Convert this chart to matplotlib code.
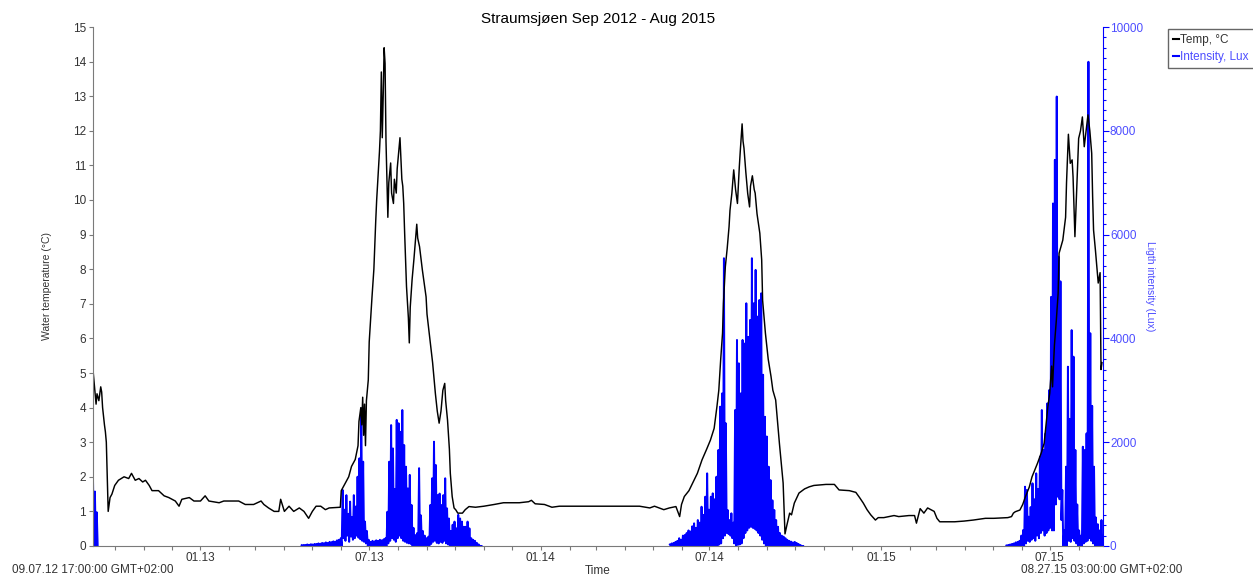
import matplotlib
matplotlib.use('Agg')
import matplotlib.pyplot as plt
import matplotlib.dates as mdates
from matplotlib.lines import Line2D
from matplotlib.ticker import MultipleLocator
import pandas as pd

plt.rcParams['font.family'] = ['Liberation Sans', 'DejaVu Sans']

t_start = pd.Timestamp('2012-09-07 17:00')
t_end = pd.Timestamp('2015-08-27 03:00')

# water temperature logger readings (deg C)
temp_dates = [
    '2012-09-07 17:00', '2012-09-08', '2012-09-11', '2012-09-12', '2012-09-14', '2012-09-16',
    '2012-09-17', '2012-09-18', '2012-09-20', '2012-09-21', '2012-09-22', '2012-09-23',
    '2012-09-24', '2012-09-26', '2012-09-28', '2012-10-01', '2012-10-05', '2012-10-11',
    '2012-10-16', '2012-10-19', '2012-10-23', '2012-10-27', '2012-10-31', '2012-11-03',
    '2012-11-07', '2012-11-10', '2012-11-17', '2012-11-23', '2012-11-28', '2012-12-05',
    '2012-12-09', '2012-12-12', '2012-12-20', '2012-12-25',
    '2013-01-01', '2013-01-06', '2013-01-10', '2013-01-21', '2013-01-26', '2013-02-11',
    '2013-02-18', '2013-02-27', '2013-03-07', '2013-03-10', '2013-03-15', '2013-03-21',
    '2013-03-26', '2013-03-28', '2013-04-01', '2013-04-06', '2013-04-11', '2013-04-17',
    '2013-04-22', '2013-04-27', '2013-05-01', '2013-05-05', '2013-05-10', '2013-05-15',
    '2013-05-19', '2013-05-31', '2013-06-01', '2013-06-05', '2013-06-09', '2013-06-12',
    '2013-06-16', '2013-06-19', '2013-06-20', '2013-06-22', '2013-06-23', '2013-06-24',
    '2013-06-25', '2013-06-26', '2013-06-27', '2013-06-28', '2013-06-30', '2013-07-01',
    '2013-07-04', '2013-07-06', '2013-07-08', '2013-07-09', '2013-07-11', '2013-07-12',
    '2013-07-13', '2013-07-14', '2013-07-15', '2013-07-16', '2013-07-17', '2013-07-18',
    '2013-07-19', '2013-07-21', '2013-07-22', '2013-07-24', '2013-07-25', '2013-07-27',
    '2013-07-28', '2013-07-30', '2013-07-31', '2013-08-03', '2013-08-05', '2013-08-06',
    '2013-08-07', '2013-08-08', '2013-08-10', '2013-08-12', '2013-08-13', '2013-08-14',
    '2013-08-16', '2013-08-18', '2013-08-21', '2013-08-22', '2013-08-24', '2013-08-27',
    '2013-08-31', '2013-09-01', '2013-09-04', '2013-09-07', '2013-09-10', '2013-09-12',
    '2013-09-14', '2013-09-16', '2013-09-18', '2013-09-20', '2013-09-21', '2013-09-23',
    '2013-09-25', '2013-09-26', '2013-09-28', '2013-09-30', '2013-10-02', '2013-10-04',
    '2013-10-09', '2013-10-12', '2013-10-16', '2013-10-23', '2013-11-01', '2013-11-12',
    '2013-11-22', '2013-12-09', '2013-12-19', '2013-12-22', '2013-12-26',
    '2014-01-05', '2014-01-13', '2014-01-21', '2014-03-05', '2014-04-17', '2014-04-28',
    '2014-05-03', '2014-05-08', '2014-05-13', '2014-05-19', '2014-05-26', '2014-05-30',
    '2014-06-01', '2014-06-04', '2014-06-09', '2014-06-13', '2014-06-18', '2014-06-23',
    '2014-06-28', '2014-07-02', '2014-07-06', '2014-07-09', '2014-07-11', '2014-07-13',
    '2014-07-15', '2014-07-16', '2014-07-18', '2014-07-20', '2014-07-22', '2014-07-23',
    '2014-07-25', '2014-07-27', '2014-07-29', '2014-07-31', '2014-08-02', '2014-08-03',
    '2014-08-05', '2014-08-06', '2014-08-07', '2014-08-09', '2014-08-11', '2014-08-13',
    '2014-08-14', '2014-08-16', '2014-08-18', '2014-08-19', '2014-08-21', '2014-08-24',
    '2014-08-26', '2014-08-27', '2014-08-30', '2014-09-02', '2014-09-05', '2014-09-07',
    '2014-09-10', '2014-09-12', '2014-09-14', '2014-09-18', '2014-09-20', '2014-09-22',
    '2014-09-25', '2014-09-27', '2014-09-30', '2014-10-05', '2014-10-11', '2014-10-16',
    '2014-10-21', '2014-11-03', '2014-11-12', '2014-11-17', '2014-11-28', '2014-12-05',
    '2014-12-09', '2014-12-13', '2014-12-17', '2014-12-21', '2014-12-26', '2014-12-29',
    '2015-01-04', '2015-01-15', '2015-01-20', '2015-01-31', '2015-02-06', '2015-02-08',
    '2015-02-12', '2015-02-16', '2015-02-20', '2015-02-27', '2015-03-02', '2015-03-05',
    '2015-03-21', '2015-03-31', '2015-04-10', '2015-04-23', '2015-05-02', '2015-05-17',
    '2015-05-21', '2015-05-23', '2015-05-25', '2015-05-30', '2015-06-02', '2015-06-05',
    '2015-06-09', '2015-06-12', '2015-06-18', '2015-06-22', '2015-06-25', '2015-06-29',
    '2015-07-01', '2015-07-03', '2015-07-04', '2015-07-06', '2015-07-08', '2015-07-10',
    '2015-07-11', '2015-07-15', '2015-07-18', '2015-07-19', '2015-07-21', '2015-07-23',
    '2015-07-25', '2015-07-26', '2015-07-28', '2015-07-30', '2015-08-01', '2015-08-03',
    '2015-08-05', '2015-08-07', '2015-08-09', '2015-08-11', '2015-08-13', '2015-08-15',
    '2015-08-16', '2015-08-17', '2015-08-19', '2015-08-21', '2015-08-22', '2015-08-24',
    '2015-08-25', '2015-08-26',
]
temp_values = [
    5.37, 5.0, 4.1, 4.4, 4.2, 4.6,
    4.45, 4.0, 3.5, 3.3, 3.0, 2.0,
    1.0, 1.4, 1.5, 1.75, 1.9, 2.0,
    1.95, 2.1, 1.9, 1.95, 1.85, 1.9,
    1.75, 1.6, 1.6, 1.45, 1.4, 1.3,
    1.15, 1.35, 1.4, 1.3,
    1.3, 1.45, 1.3, 1.25, 1.3, 1.3,
    1.2, 1.2, 1.3, 1.2, 1.1, 1.0,
    1.0, 1.35, 1.0, 1.15, 1.0, 1.1,
    1.0, 0.8, 1.0, 1.15, 1.15, 1.05,
    1.1, 1.12, 1.6, 1.8, 2.0, 2.3,
    2.5, 2.9, 3.6, 4.0, 3.5, 4.3,
    3.2, 4.1, 2.9, 4.2, 4.8, 5.9,
    7.2, 8.0, 9.4, 10.0, 10.9, 11.4,
    12.0, 13.7, 11.8, 13.0, 14.4, 13.95,
    11.7, 9.5, 10.5, 11.07, 10.2, 9.9,
    10.6, 10.2, 10.9, 11.8, 10.6, 10.4,
    9.9, 9.05, 7.5, 6.6, 5.87, 6.9,
    7.7, 8.3, 9.3, 8.9, 8.65, 7.98,
    7.2, 6.7, 6.0, 5.3, 4.4, 3.9,
    3.55, 3.9, 4.5, 4.7, 4.2, 3.64,
    2.8, 2.1, 1.43, 1.1, 1.04, 0.95,
    0.95, 1.05, 1.14, 1.12, 1.15, 1.2,
    1.25, 1.25, 1.28, 1.32, 1.22,
    1.2, 1.12, 1.15, 1.15, 1.15, 1.1,
    1.15, 1.1, 1.05, 1.1, 1.14, 0.85,
    1.2, 1.43, 1.6, 1.82, 2.1, 2.49,
    2.8, 3.06, 3.4, 4.03, 4.5, 5.38,
    6.15, 7.02, 8.07, 8.6, 9.23, 9.7,
    10.19, 10.87, 10.3, 9.9, 10.96, 11.4,
    12.2, 11.7, 11.5, 10.8, 10.19, 9.8,
    10.4, 10.7, 10.3, 10.2, 9.6, 9.04,
    8.27, 7.1, 6.15, 5.4, 4.9, 4.5,
    4.22, 3.6, 2.97, 1.82, 0.35, 0.6,
    0.95, 0.9, 1.24, 1.53, 1.65, 1.71,
    1.75, 1.78, 1.78, 1.62, 1.6, 1.55,
    1.4, 1.24, 1.05, 0.9, 0.75, 0.82,
    0.82, 0.88, 0.85, 0.88, 0.88, 0.66,
    1.08, 0.95, 1.1, 1.0, 0.8, 0.7,
    0.7, 0.72, 0.75, 0.8, 0.8, 0.82,
    0.85, 0.95, 0.99, 1.04, 1.2, 1.43,
    1.7, 2.0, 2.4, 2.7, 2.97, 4.03,
    4.42, 5.2, 4.6, 5.8, 6.5, 7.3,
    8.46, 8.84, 9.5, 10.5, 11.9, 11.06,
    11.16, 10.67, 8.94, 10.4, 11.78, 12.0,
    12.4, 11.54, 12.0, 12.46, 12.0, 11.35,
    10.1, 9.13, 8.55, 7.9, 7.6, 7.9,
    5.1, 5.3,
]

# light intensity (lux): day maximum / night minimum, every second day
lux12_start = '2012-09-07 18:00'
lux12_peak = [1240, 1050, 650]
lux12_low = [0, 0, 0]

lux13_start = '2013-04-19 12:00'
lux13_peak = [
    15, 20, 20, 30, 25, 35, 30, 40, 40, 50, 45, 60, 55, 70, 60, 80, 75, 90, 85, 110, 120,
    150,
    1080, 700, 980, 620, 855, 560, 980, 760, 1335, 1690, 2650, 1625, 470, 290, 120,
    80, 100, 90, 110, 100, 120, 110, 130, 150,
    660, 1625, 2330, 1880, 1100, 2430, 2365, 2200, 2620, 1945, 1528, 1110, 1370, 790,
    350, 210, 250, 1500, 590, 290, 200, 150, 180,
    790, 1305, 2010, 1560, 980, 1010, 790, 980, 1305, 725, 530,
    290, 410, 470, 340, 600, 530, 470, 370, 370, 470, 340, 150, 120, 100, 60, 30, 0,
]
lux13_low = [
    0, 0, 0, 0, 0, 0, 0, 0, 0, 0, 0, 0, 0, 0, 0, 0, 0, 0, 0, 0, 0, 0,
    150, 100, 200, 80, 180, 120, 150, 200, 160, 130, 100, 80, 50, 0,
    0, 0, 0, 0, 0, 0, 0, 0, 0, 0,
    50, 100, 150, 120, 80, 150, 200, 150, 100, 80, 60, 50, 40, 0,
    0, 0, 0, 0, 0, 0, 0, 0, 0,
    40, 80, 100, 60, 50, 80, 60, 100, 50, 30, 0,
    0, 0, 0, 0, 0, 0, 0, 0, 0, 0, 0, 0, 0, 0, 0, 0, 0,
]

lux14_start = '2014-05-19 12:00'
lux14_peak = [
    30, 50, 60, 80, 100,
    150, 120, 200, 212, 250, 300, 280, 380, 437, 350, 500, 450, 757, 600, 950,
    1400, 700, 950, 1015, 900, 1335, 1850, 2685, 2940, 5545, 2365, 694, 500, 630, 450,
    2620, 3970, 3520, 2940, 3970, 3900, 4677, 4030, 4355, 5545, 4677, 5320, 4420, 4740, 4870,
    3300, 2490, 2110, 1528, 1270, 880, 694, 500, 370, 250,
    200, 180, 150, 120, 100, 85, 70, 80, 60, 40, 20, 0,
]
lux14_low = [
    0, 0, 0, 0, 0, 0, 0, 0, 0, 0, 0, 0, 0, 0, 0, 0, 0, 0, 0, 0,
    0, 0, 0, 0, 0, 0, 30, 50,
    150, 200, 250, 230, 200, 150, 50,
    0, 20, 30, 50, 150, 250, 300, 350, 370, 350, 330, 300, 250, 200, 120, 50,
    0, 0, 0, 0, 0, 0, 0, 0, 0, 0, 0, 0, 0, 0, 0, 0, 0, 0, 0, 0, 0,
]

lux15_start = '2015-05-15 12:00'
lux15_peak = [
    10, 20, 30, 40, 50, 70, 80, 100,
    200, 308, 1143, 1080, 565, 750, 1208, 900, 1400, 1100, 1720, 2620, 1850, 2170, 2750, 3006,
    4800, 6600, 7440, 8660, 5575, 5100, 1080, 300, 1528, 3455, 2450, 4160, 3648, 1850,
    800, 300, 200, 1913, 1850, 2170, 9330, 4100, 2700, 1528, 550, 420, 300, 500,
]
lux15_low = [
    0, 0, 0, 0, 0, 0, 0, 0, 0, 0,
    50, 100, 80, 120, 150, 100, 200, 150, 250, 300, 200, 250, 300, 350, 300,
    300, 800, 950, 900, 500,
    0, 0, 0, 100, 80, 150, 100, 50, 0, 0, 0, 50, 80, 100, 150, 100, 50, 0, 0, 0, 0, 0,
]


def light_trace(start, peak, low):
    # alternate day maximum and following night minimum
    days = pd.date_range(start, periods=len(peak), freq='2D')
    t, v = [], []
    for d, p, q in zip(days, peak, low):
        t += [d, d + pd.Timedelta(days=1)]
        v += [p, q]
    return t, v


axis_grey = '#7a7a7a'
text_grey = '#333333'
blue = '#0000ff'
label_blue = '#4d4dff'

fig = plt.figure(figsize=(12.53, 5.75), dpi=100)
ax = fig.add_axes([93 / 1253, 29 / 575, 1010 / 1253, 519 / 575])
ax2 = ax.twinx()

# temperature drawn over the light trace
ax.set_zorder(ax2.get_zorder() + 1)
ax.patch.set_visible(False)

ax.plot(pd.to_datetime(temp_dates, format='ISO8601'), temp_values, color='black', lw=1.05)

for start, peak, low in [(lux12_start, lux12_peak, lux12_low),
                         (lux13_start, lux13_peak, lux13_low),
                         (lux14_start, lux14_peak, lux14_low),
                         (lux15_start, lux15_peak, lux15_low)]:
    t, v = light_trace(start, peak, low)
    ax2.plot(t, v, color=blue, lw=1.4)

ax.set_xlim(t_start, t_end)
ax.set_ylim(0, 15)
ax.set_yticks(range(0, 16))
ax2.set_ylim(0, 10000)
ax2.set_yticks(range(0, 10001, 2000))
ax2.yaxis.set_minor_locator(MultipleLocator(200))

ax.xaxis.set_major_locator(mdates.MonthLocator(bymonth=[1, 7]))
ax.xaxis.set_minor_locator(mdates.MonthLocator())
ax.xaxis.set_major_formatter(mdates.DateFormatter('%m.%y'))

for s in ['top', 'right']:
    ax.spines[s].set_visible(False)
for s in ['left', 'bottom']:
    ax.spines[s].set_color(axis_grey)
for s in ['top', 'left', 'bottom']:
    ax2.spines[s].set_visible(False)
ax2.spines['right'].set_color(blue)

ax.tick_params(axis='both', which='both', direction='out', length=3, width=0.8,
               color=axis_grey, labelsize=8.5, labelcolor=text_grey, pad=2)
ax.tick_params(axis='x', which='major', pad=1)
ax2.tick_params(axis='y', which='major', direction='out', length=4, width=0.8,
                color=blue, labelsize=8.5, labelcolor=label_blue, pad=1)
ax2.tick_params(axis='y', which='minor', direction='out', length=2.5, width=0.8, color=blue)

ax.set_title('Straumsjøen Sep 2012 - Aug 2015', fontsize=11, pad=3)
ax.set_ylabel('Water temperature (°C)', fontsize=7.5, color=text_grey)
ax.yaxis.set_label_coords(-0.041, 0.5)
ax2.set_ylabel('Ligth intensity (Lux)', fontsize=7.5, color=label_blue, rotation=270, va='center')
ax2.yaxis.set_label_coords(1.0465, 0.5)

fig.text(93 / 1253, 1 - 570 / 575, '09.07.12 17:00:00 GMT+02:00', ha='center', va='center',
         fontsize=8.5, color=text_grey)
fig.text(1102 / 1253, 1 - 570 / 575, '08.27.15 03:00:00 GMT+02:00', ha='center', va='center',
         fontsize=8.5, color=text_grey)
fig.text(598 / 1253, 1 - 571 / 575, 'Time', ha='center', va='center', fontsize=8.5, color=text_grey)

handles = [Line2D([], [], color='black', lw=1.5), Line2D([], [], color=blue, lw=1.5)]
leg = fig.legend(handles, ['Temp, °C', 'Intensity, Lux'], loc='upper left',
                 bbox_to_anchor=(1168 / 1253, 1 - 29 / 575), fontsize=8.5, frameon=True,
                 fancybox=False, handlelength=0.5, handletextpad=0.1, borderpad=0.45,
                 labelspacing=0.4, borderaxespad=0)
leg.get_frame().set_edgecolor('#404040')
leg.get_frame().set_linewidth(1.0)
leg.get_texts()[0].set_color(text_grey)
leg.get_texts()[1].set_color(label_blue)

fig.savefig('out.png', dpi=100)
